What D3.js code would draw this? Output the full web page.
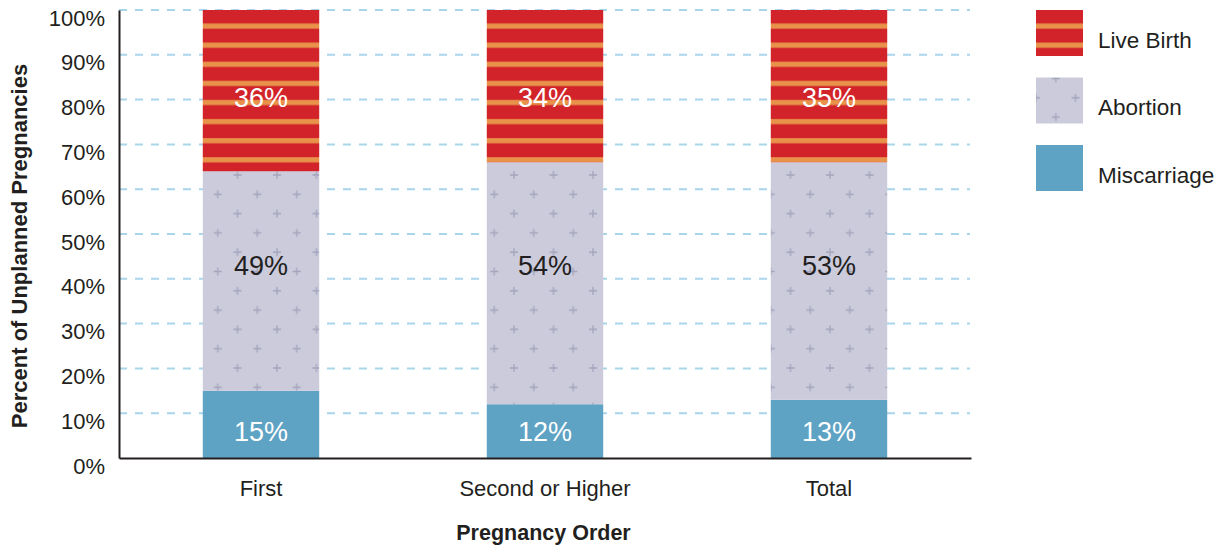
<!DOCTYPE html>
<html>
<head>
<meta charset="utf-8">
<script src="https://cdn.jsdelivr.net/npm/d3@7"></script>
<style>
  body { margin: 0; background: #fff; }
  text { font-family: "Liberation Sans", Arial, Helvetica, sans-serif; fill: #231f20; }
</style>
</head>
<body>
<svg width="1228" height="546"></svg>
<script>
const categories = ["First", "Second or Higher", "Total"];
const seriesNames = ["Miscarriage", "Abortion", "Live Birth"];
const miscarriage = [15, 12, 13];
const abortion = [49, 54, 53];
const liveBirth = [36, 34, 35];
const yTicks = [0, 10, 20, 30, 40, 50, 60, 70, 80, 90, 100];

const svg = d3.select("svg");
const margin = { top: 10, right: 258, bottom: 88, left: 119 };
const width = 1228 - margin.left - margin.right;
const height = 546 - margin.top - margin.bottom;

const defs = svg.append("defs");

// red with orange stripes
const stripes = defs.append("pattern")
    .attr("id", "stripes")
    .attr("patternUnits", "userSpaceOnUse")
    .attr("x", 0).attr("y", 0)
    .attr("width", 1228).attr("height", 19.1);
stripes.append("rect").attr("width", 1228).attr("height", 19.1).attr("fill", "#d2232a");
stripes.append("rect").attr("y", 13.5).attr("width", 1228).attr("height", 5.2).attr("fill", "#e8924a");

// lavender with plus signs
const plus = defs.append("pattern")
    .attr("id", "plus")
    .attr("patternUnits", "userSpaceOnUse")
    .attr("x", 0).attr("y", 165)
    .attr("width", 39.5).attr("height", 38.6);
plus.append("rect").attr("width", 39.5).attr("height", 38.6).attr("fill", "#cbcbdc");
[[0, 0], [19.75, 19.3], [39.5, 0], [0, 38.6], [39.5, 38.6]].forEach(([px, py]) => {
    plus.append("path")
        .attr("d", `M${px - 4},${py}H${px + 4}M${px},${py - 4}V${py + 4}`)
        .attr("stroke", "#a4a4bc").attr("stroke-width", 1.3);
});

const fills = { "Miscarriage": "#5ea2c4", "Abortion": "url(#plus)", "Live Birth": "url(#stripes)" };
const labelColor = { "Miscarriage": "#fff", "Abortion": "#231f20", "Live Birth": "#fff" };
// where the value labels sit, in percent of the axis
const labelAt = { "Miscarriage": 6, "Abortion": 43, "Live Birth": 80.5 };

const chart = svg.append("g")
    .attr("transform", `translate(${margin.left},${margin.top})`);

const x = d3.scaleBand().domain(categories).range([0, width + 1])
    .paddingInner(0.59).paddingOuter(0.295);
const y = d3.scaleLinear().domain([0, 100]).range([height, 0]);

const rows = categories.map((c, i) => ({
    cat: c, "Miscarriage": miscarriage[i], "Abortion": abortion[i], "Live Birth": liveBirth[i]
}));
const stacked = d3.stack().keys(seriesNames)(rows);

// gridlines
chart.append("g")
    .selectAll("line")
    .data(yTicks.filter(t => t > 0))
    .enter().append("line")
    .attr("x1", 0).attr("x2", width)
    .attr("y1", d => y(d)).attr("y2", d => y(d))
    .attr("stroke", "#a9d5ea")
    .attr("stroke-width", 2)
    .attr("stroke-dasharray", "8,8");

// bars
stacked.forEach(layer => {
    const g = chart.append("g");
    g.selectAll("rect")
        .data(layer)
        .enter().append("rect")
        .attr("x", d => x(d.data.cat))
        .attr("y", d => y(Math.min(100, d[1])))
        .attr("width", x.bandwidth())
        .attr("height", d => y(d[0]) - y(Math.min(100, d[1])))
        .attr("fill", fills[layer.key]);
    g.selectAll("text")
        .data(layer)
        .enter().append("text")
        .attr("x", d => x(d.data.cat) + x.bandwidth() / 2)
        .attr("y", y(labelAt[layer.key]))
        .attr("dy", "0.35em")
        .attr("text-anchor", "middle")
        .style("font-size", "27px")
        .style("fill", labelColor[layer.key])
        .text(d => (d[1] - d[0]) + "%");
});

// y axis (labels sit a little below their gridline)
const yAxis = chart.append("g")
    .call(d3.axisLeft(y).tickValues(yTicks).tickFormat(d => d + "%").tickSize(0).tickPadding(14));
yAxis.select(".domain").attr("stroke", "#231f20").attr("stroke-width", 2);
yAxis.selectAll("text")
    .attr("y", 8)
    .style("font-size", "22px").style("fill", "#231f20");

// x axis
const xAxis = chart.append("g")
    .attr("transform", `translate(0,${height})`)
    .call(d3.axisBottom(x).tickSize(0).tickPadding(22));
xAxis.select(".domain").attr("stroke", "#231f20").attr("stroke-width", 2.2);
xAxis.selectAll("text").style("font-size", "22px").style("fill", "#231f20");

// axis titles
svg.append("text")
    .attr("x", margin.left + width / 2 - 1)
    .attr("y", 540)
    .attr("text-anchor", "middle")
    .style("font-size", "21.5px").style("font-weight", "bold")
    .text("Pregnancy Order");

svg.append("text")
    .attr("transform", `translate(27,${margin.top + height / 2 + 12}) rotate(-90)`)
    .attr("text-anchor", "middle")
    .style("font-size", "22px").style("font-weight", "bold")
    .text("Percent of Unplanned Pregnancies");

// legend
const legendItems = seriesNames.slice().reverse();
const legend = svg.append("g").attr("transform", "translate(1036,10)");
legendItems.forEach((name, i) => {
    legend.append("rect")
        .attr("x", 0).attr("y", i * 67.5)
        .attr("width", 47).attr("height", 46)
        .attr("fill", fills[name]);
    legend.append("text")
        .attr("x", 62).attr("y", i * 67.5 + 30)
        .attr("dy", "0.35em")
        .style("font-size", "22.5px")
        .text(name);
});
</script>
</body>
</html>
